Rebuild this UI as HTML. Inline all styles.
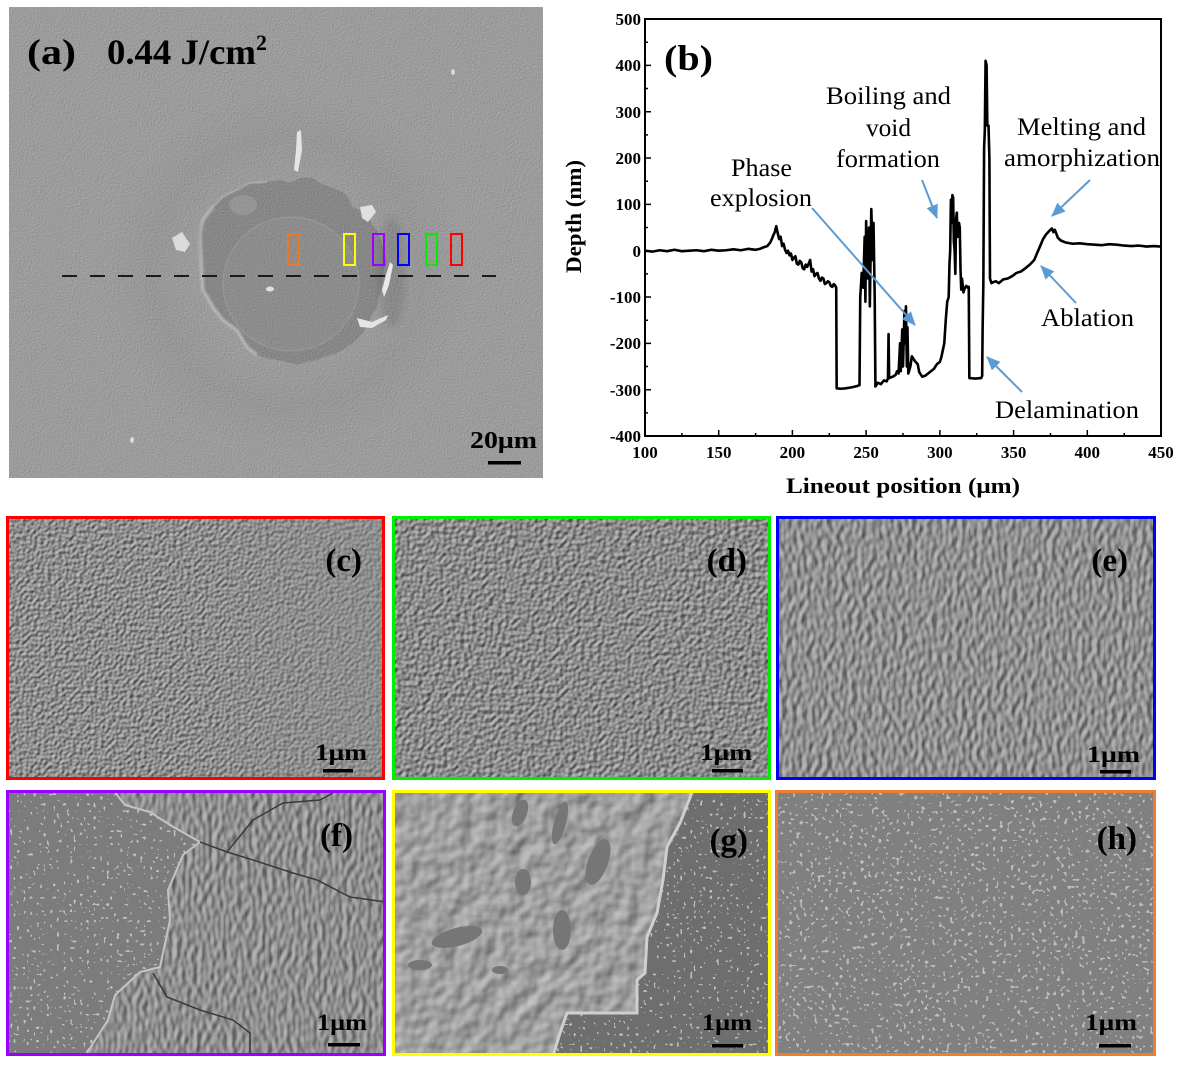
<!DOCTYPE html>
<html><head><meta charset="utf-8"><style>
html,body{margin:0;padding:0;background:#fff;}
svg{display:block;}
text{font-family:"Liberation Serif",serif;}
</style></head><body>
<svg width="1182" height="1067" viewBox="0 0 1182 1067" xmlns="http://www.w3.org/2000/svg">
<defs>
 <filter id="grainA" x="0" y="0" width="1" height="1" color-interpolation-filters="sRGB">
  <feTurbulence type="fractalNoise" baseFrequency="0.6" numOctaves="1" seed="4"/>
  <feDiffuseLighting surfaceScale="0.25" lighting-color="rgb(180,180,180)"><feDistantLight azimuth="225" elevation="60"/></feDiffuseLighting>
 </filter>
 <filter id="fc" x="0" y="0" width="1" height="1" color-interpolation-filters="sRGB">
  <feTurbulence type="fractalNoise" baseFrequency="0.28" numOctaves="1" seed="2"/>
  <feDiffuseLighting surfaceScale="1.2" lighting-color="rgb(203,203,203)"><feDistantLight azimuth="225" elevation="45"/></feDiffuseLighting>
 </filter>
 <filter id="fd" x="0" y="0" width="1" height="1" color-interpolation-filters="sRGB">
  <feTurbulence type="fractalNoise" baseFrequency="0.24" numOctaves="1" seed="9"/>
  <feDiffuseLighting surfaceScale="1.4" lighting-color="rgb(200,200,200)"><feDistantLight azimuth="225" elevation="45"/></feDiffuseLighting>
 </filter>
 <filter id="fe" x="0" y="0" width="1" height="1" color-interpolation-filters="sRGB">
  <feTurbulence type="fractalNoise" baseFrequency="0.2 0.12" numOctaves="1" seed="13"/>
  <feDiffuseLighting surfaceScale="1.4" lighting-color="rgb(204,204,204)"><feDistantLight azimuth="200" elevation="45"/></feDiffuseLighting>
 </filter>
 <filter id="ff" x="0" y="0" width="1" height="1" color-interpolation-filters="sRGB">
  <feTurbulence type="fractalNoise" baseFrequency="0.2 0.11" numOctaves="1" seed="21"/>
  <feDiffuseLighting surfaceScale="1.3" lighting-color="rgb(202,202,202)"><feDistantLight azimuth="200" elevation="45"/></feDiffuseLighting>
 </filter>
 <filter id="fg" x="0" y="0" width="1" height="1" color-interpolation-filters="sRGB">
  <feTurbulence type="fractalNoise" baseFrequency="0.06" numOctaves="2" seed="31"/>
  <feDiffuseLighting surfaceScale="2" lighting-color="rgb(214,214,214)"><feDistantLight azimuth="225" elevation="48"/></feDiffuseLighting>
 </filter>
 <filter id="fh" x="0" y="0" width="1" height="1" color-interpolation-filters="sRGB">
  <feTurbulence type="fractalNoise" baseFrequency="0.28" numOctaves="1" seed="7" result="t"/>
  <feColorMatrix in="t" type="matrix" values="0 0 0 0 0.78  0 0 0 0 0.78  0 0 0 0 0.78  3 0 0 0 -1.2" result="a"/>
  <feComponentTransfer in="a" result="d"><feFuncA type="discrete" tableValues="0 0 0 0.85"/></feComponentTransfer>
  <feComposite in="d" in2="SourceGraphic" operator="over"/>
 </filter>
 <filter id="dotsLight" x="0" y="0" width="1" height="1" color-interpolation-filters="sRGB">
  <feTurbulence type="fractalNoise" baseFrequency="0.3" numOctaves="1" seed="17" result="t"/>
  <feColorMatrix in="t" type="matrix" values="0 0 0 0 0.8  0 0 0 0 0.8  0 0 0 0 0.8  3 0 0 0 -1.2" result="a"/>
  <feComponentTransfer in="a" result="d"><feFuncA type="discrete" tableValues="0 0 0 0 0 0.85"/></feComponentTransfer>
  <feComposite in="d" in2="SourceGraphic" operator="in" result="d2"/>
  <feMerge><feMergeNode in="SourceGraphic"/><feMergeNode in="d2"/></feMerge>
 </filter>
 <filter id="blur4"><feGaussianBlur stdDeviation="4"/></filter>
 <filter id="blur1"><feGaussianBlur stdDeviation="1"/></filter>
 <radialGradient id="halo" cx="287" cy="272" r="180" gradientUnits="userSpaceOnUse">
  <stop offset="0.5" stop-color="#000" stop-opacity="0"/>
  <stop offset="0.75" stop-color="#000" stop-opacity="0.03"/>
  <stop offset="1" stop-color="#000" stop-opacity="0"/>
 </radialGradient>
 <linearGradient id="smoothC" x1="0" x2="1" y1="0" y2="0">
  <stop offset="0.45" stop-color="#8e8e8e" stop-opacity="0"/>
  <stop offset="1" stop-color="#8e8e8e" stop-opacity="0.5"/>
 </linearGradient>
 <marker id="ah" viewBox="0 0 14 12" refX="13" refY="6" markerWidth="14" markerHeight="12" markerUnits="userSpaceOnUse" orient="auto">
  <path d="M0,0 L14,6 L0,12 z" fill="#5b9bd5"/>
 </marker>
 <clipPath id="cf"><rect x="6" y="790" width="380" height="266"/></clipPath>
 <clipPath id="cg"><rect x="392" y="790" width="379" height="266"/></clipPath>
</defs>

<!-- ============ Panel (a) ============ -->
<rect x="9" y="7" width="534" height="471" filter="url(#grainA)"/>
<rect x="9" y="7" width="534" height="471" fill="url(#halo)"/>
<ellipse cx="392" cy="272" rx="14" ry="55" fill="#000" opacity="0.1" filter="url(#blur4)"/>
<polygon fill="#000" fill-opacity="0.13" points="280,180 290,183 300,178 313,178 320,183 330,187 338,190 347,195 350,202 352,207 358,209 363,213 370,220 373,226 377,230 380,238 383,247 385,255 387,263 384,270 383,277 382,285 380,293 378,300 377,307 373,313 370,320 366,327 363,333 358,338 353,343 345,348 337,353 327,356 317,360 307,362 297,365 287,362 277,360 267,358 257,355 252,351 247,347 242,338 237,330 230,325 223,320 218,313 213,307 208,298 203,290 203,282 202,273 201,263 200,253 199,243 198,233 200,226 203,220 208,213 213,207 218,202 223,197 230,193 237,190 243,186 250,183 258,183 267,182 273,181"/>
<ellipse cx="291" cy="284" rx="68" ry="67" fill="#fff" fill-opacity="0.05" stroke="#fff" stroke-opacity="0.1" stroke-width="1.5"/>
<polyline fill="none" stroke="#d8d8d8" stroke-opacity="0.55" stroke-width="3" filter="url(#blur1)" points="213,207 203,220 200,233 201,253 202,273 203,290 208,298 213,307 223,320 230,325 237,330 247,347 257,355"/>
<polyline fill="none" stroke="#d0d0d0" stroke-opacity="0.35" stroke-width="2" points="213,207 223,197 237,190 250,183 267,182"/>
<ellipse cx="243" cy="205" rx="14" ry="10" fill="#fff" fill-opacity="0.12"/>
<polygon fill="#e4e4e4" points="297,132 301,130 302,150 298,172 294,170 296,150"/>
<polygon fill="#e0e0e0" points="360,207 372,205 376,212 368,222 362,218"/>
<polygon fill="#e8e8e8" points="390,262 393,265 389,285 384,297 382,290 386,275"/>
<polygon fill="#e4e4e4" points="357,318 372,322 388,315 386,320 372,328 360,327"/>
<polygon fill="#dadada" points="172,238 182,232 190,244 185,252 176,250"/>
<ellipse cx="270" cy="289" rx="4" ry="2.5" fill="#e0e0e0"/>
<ellipse cx="453" cy="72" rx="2" ry="3" fill="#d8d8d8"/>
<ellipse cx="132" cy="440" rx="2" ry="3" fill="#d8d8d8"/>
<line x1="62" y1="276" x2="496" y2="276" stroke="#1a1a1a" stroke-width="2" stroke-dasharray="15 13"/>
<g fill="none" stroke-width="2">
 <rect x="288" y="234" width="11" height="31" stroke="#f07820"/>
 <rect x="344" y="234" width="11" height="31" stroke="#ffff00"/>
 <rect x="373" y="234" width="11" height="31" stroke="#9900ff"/>
 <rect x="398" y="234" width="11" height="31" stroke="#0000ff"/>
 <rect x="426" y="234" width="11" height="31" stroke="#00ee00"/>
 <rect x="451" y="234" width="11" height="31" stroke="#ff0000"/>
</g>
<text x="27" y="64" font-weight="bold" font-size="36" textLength="49" lengthAdjust="spacingAndGlyphs">(a)</text>
<text x="107" y="64" font-weight="bold" font-size="36" textLength="149" lengthAdjust="spacingAndGlyphs">0.44 J/cm</text>
<text x="256" y="50" font-weight="bold" font-size="22">2</text>
<text x="470" y="448" font-weight="bold" font-size="24" textLength="67" lengthAdjust="spacingAndGlyphs">20μm</text>
<rect x="488" y="461" width="33" height="3.5" fill="#000"/>

<!-- ============ Panel (b) ============ -->
<g fill="none" stroke="#000" stroke-width="1.5">
 <path d="M645,65.4h6 M645,111.7h6 M645,158h6 M645,204.4h6 M645,250.7h6 M645,297h6 M645,343.4h6 M645,389.7h6
  M645,42.2h3 M645,88.5h3 M645,134.9h3 M645,181.2h3 M645,227.5h3 M645,273.9h3 M645,320.2h3 M645,366.5h3 M645,412.9h3"/>
 <path d="M718.7,436v-6 M792.4,436v-6 M866.1,436v-6 M939.9,436v-6 M1013.6,436v-6 M1087.3,436v-6
  M681.9,436v-3 M755.6,436v-3 M829.3,436v-3 M903,436v-3 M976.7,436v-3 M1050.5,436v-3 M1124.2,436v-3"/>
</g>
<rect x="645" y="19" width="516" height="417" fill="none" stroke="#000" stroke-width="2"/>
<g font-size="17" text-anchor="end" font-weight="bold">
 <text x="641" y="25">500</text>
 <text x="641" y="71">400</text>
 <text x="641" y="118">300</text>
 <text x="641" y="164">200</text>
 <text x="641" y="210">100</text>
 <text x="641" y="257">0</text>
 <text x="641" y="303">-100</text>
 <text x="641" y="349">-200</text>
 <text x="641" y="396">-300</text>
 <text x="641" y="442">-400</text>
</g>
<g font-size="17" text-anchor="middle" font-weight="bold">
 <text x="645" y="458">100</text>
 <text x="718.7" y="458">150</text>
 <text x="792.4" y="458">200</text>
 <text x="866.1" y="458">250</text>
 <text x="939.9" y="458">300</text>
 <text x="1013.6" y="458">350</text>
 <text x="1087.3" y="458">400</text>
 <text x="1161" y="458">450</text>
</g>
<text x="786" y="493" font-size="22" font-weight="bold" textLength="234" lengthAdjust="spacingAndGlyphs">Lineout position (μm)</text>
<text transform="translate(581,273) rotate(-90)" font-size="22" font-weight="bold" textLength="113" lengthAdjust="spacingAndGlyphs">Depth (nm)</text>
<text x="664" y="70" font-size="36" font-weight="bold" textLength="49" lengthAdjust="spacingAndGlyphs">(b)</text>

<g transform="translate(645,250.7) scale(1.4743,-0.4633) translate(-100,0)">
<polyline fill="none" stroke="#000" stroke-width="2.6" vector-effect="non-scaling-stroke" stroke-linejoin="round" points="100,0 105,-2 110,1 115,-1 120,2 125,-1 130,0 135,1 140,-1 145,2 150,0 155,1 160,3 165,1 170,4 175,2 178,4 181,8 183,10 185,18 186,25 187,33 188,40 189,53 190,38 191,25 192,30 193,10 194,15 195,2 196,-5 197,0 198,-10 199,-6 200,-20 201,-15 202,-12 203,-28 204,-30 205,-22 206,-25 207,-38 208,-40 209,-30 210,-35 211,-28 212,-20 213,-45 214,-40 215,-55 216,-50 217,-48 218,-60 219,-65 220,-58 221,-60 222,-72 223,-70 224,-66 225,-68 226,-76 227,-78 228,-72 229,-75 229.7,-80 230,-297 233,-298 236,-297 240,-295 244,-292 245.5,-290 246,-100 247,-48 248,-80 249,30 249.5,-110 250,64 251,-60 252,50 252.5,-120 253.5,90 254.5,-20 255,60 255.8,-100 256.3,-293 258,-285 260,-288 262,-280 264,-282 264.8,-275 265.2,-180 265.6,-275 268,-272 270,-268 271,-260 272,-265 273,-200 273.5,-260 274.5,-170 275,-250 276,-130 276.5,-200 277,-120 277.6,-250 278,-165 278.6,-265 280,-250 281,-228 283,-238 285,-245 286,-262 288,-272 290,-270 292,-265 294,-260 296,-255 298,-245 300,-240 301,-230 302,-215 303,-200 304,-150 305,-110 306,-100 306.5,-30 307,0 307.5,110 308,60 308.5,120 309,115 309.5,20 310,0 310.5,-50 311,70 311.5,82 312,30 313,60 313.5,50 314,-40 314.5,-84 315,-60 316,-90 317,-80 318,-76 319,-80 319.6,-78 320,-275 324,-276 328,-275 328.7,-270 329,-170 329.5,-70 330,220 330.5,260 331,410 331.7,400 332.2,270 333,270 333.6,200 334,-60 335,-70 336,-68 338,-66 340,-70 343,-62 346,-60 349,-55 352,-48 355,-45 358,-38 361,-30 364,-20 366,-5 368,10 370,25 372,35 374,42 376,48 377,40 378,45 380,28 382,22 385,18 390,15 395,16 400,14 405,13 410,12 415,14 420,13 425,11 430,10 435,11 440,9 445,10 450,9"/>
</g>

<g font-size="25">
 <text x="731" y="176" textLength="61" lengthAdjust="spacingAndGlyphs">Phase</text>
 <text x="710" y="206" textLength="102" lengthAdjust="spacingAndGlyphs">explosion</text>
 <text x="826" y="104" textLength="125" lengthAdjust="spacingAndGlyphs">Boiling and</text>
 <text x="866" y="136" textLength="45" lengthAdjust="spacingAndGlyphs">void</text>
 <text x="836" y="167" textLength="104" lengthAdjust="spacingAndGlyphs">formation</text>
 <text x="1017" y="135" textLength="129" lengthAdjust="spacingAndGlyphs">Melting and</text>
 <text x="1004" y="166" textLength="156" lengthAdjust="spacingAndGlyphs">amorphization</text>
 <text x="1041" y="326" textLength="93" lengthAdjust="spacingAndGlyphs">Ablation</text>
 <text x="995" y="418" textLength="144" lengthAdjust="spacingAndGlyphs">Delamination</text>
</g>
<g stroke="#5b9bd5" stroke-width="2" marker-end="url(#ah)">
 <line x1="812" y1="208" x2="915" y2="325"/>
 <line x1="922" y1="180" x2="937" y2="218"/>
 <line x1="1090" y1="180" x2="1052" y2="216"/>
 <line x1="1076" y1="303" x2="1041" y2="266"/>
 <line x1="1022" y1="392" x2="987" y2="357"/>
</g>

<!-- ============ Panel (c) ============ -->
<rect x="6" y="516" width="379" height="264" filter="url(#fc)"/>
<rect x="6" y="516" width="379" height="264" fill="url(#smoothC)"/>
<rect x="7.5" y="517.5" width="376" height="261" fill="none" stroke="#ff0000" stroke-width="3"/>
<text x="362" y="571" text-anchor="end" font-size="33" font-weight="bold">(c)</text>
<text x="315" y="760" font-size="23" font-weight="bold" textLength="52" lengthAdjust="spacingAndGlyphs">1μm</text>
<rect x="323" y="769" width="30" height="3.5" fill="#000"/>

<!-- ============ Panel (d) ============ -->
<rect x="392" y="516" width="379" height="264" filter="url(#fd)"/>
<rect x="393.5" y="517.5" width="376" height="261" fill="none" stroke="#00ee00" stroke-width="3"/>
<text x="747" y="571" text-anchor="end" font-size="33" font-weight="bold">(d)</text>
<text x="700" y="760" font-size="23" font-weight="bold" textLength="52" lengthAdjust="spacingAndGlyphs">1μm</text>
<rect x="712" y="769" width="31" height="3.5" fill="#000"/>

<!-- ============ Panel (e) ============ -->
<rect x="776" y="516" width="380" height="264" filter="url(#fe)"/>
<rect x="777.5" y="517.5" width="377" height="261" fill="none" stroke="#0000ff" stroke-width="3"/>
<text x="1128" y="571" text-anchor="end" font-size="33" font-weight="bold">(e)</text>
<text x="1087" y="762" font-size="23" font-weight="bold" textLength="53" lengthAdjust="spacingAndGlyphs">1μm</text>
<rect x="1100" y="770" width="31" height="3.5" fill="#000"/>

<!-- ============ Panel (f) ============ -->
<g clip-path="url(#cf)">
<rect x="6" y="790" width="380" height="266" filter="url(#ff)"/>
<polygon fill="#7c7c7c" filter="url(#dotsLight)" points="6,790 113,790 125,805 150,812 170,825 200,842 183,855 168,890 170,920 160,967 140,972 115,995 108,1020 92,1045 85,1056 6,1056"/>
<polyline fill="none" stroke="#c4c4c4" stroke-width="2" points="113,790 125,805 150,812 170,825 200,842 183,855 168,890 170,920 160,967 140,972 115,995 108,1020 92,1045 85,1056"/>
<g fill="none" stroke="#3a3a3a" stroke-width="1.5">
 <polyline points="200,842 227,852 253,820 283,803 320,800 333,793"/>
 <polyline points="227,852 253,860 293,873 317,880 350,897 386,902"/>
 <polyline points="153,973 167,997 200,1010 233,1020 250,1033 250,1056"/>
</g>
</g>
<rect x="7.5" y="791.5" width="377" height="263" fill="none" stroke="#9900ff" stroke-width="3"/>
<text x="353" y="846" text-anchor="end" font-size="33" font-weight="bold">(f)</text>
<text x="317" y="1030" font-size="23" font-weight="bold" textLength="50" lengthAdjust="spacingAndGlyphs">1μm</text>
<rect x="328" y="1043" width="32" height="3.5" fill="#000"/>

<!-- ============ Panel (g) ============ -->
<g clip-path="url(#cg)">
<rect x="392" y="790" width="379" height="266" filter="url(#fg)"/>
<g fill="#767676">
 <ellipse cx="457" cy="937" rx="26" ry="9" transform="rotate(-15 457 937)"/>
 <ellipse cx="562" cy="930" rx="9" ry="20"/>
 <ellipse cx="523" cy="882" rx="8" ry="13"/>
 <ellipse cx="598" cy="862" rx="10" ry="24" transform="rotate(20 598 862)"/>
 <ellipse cx="560" cy="823" rx="6" ry="22" transform="rotate(15 560 823)"/>
 <ellipse cx="520" cy="813" rx="7" ry="14" transform="rotate(20 520 813)"/>
 <ellipse cx="420" cy="965" rx="12" ry="5"/>
 <ellipse cx="500" cy="970" rx="8" ry="4"/>
</g>
<polygon fill="#6e6e6e" filter="url(#dotsLight)" points="693,790 771,790 771,1056 553,1056 560,1033 567,1013 637,1013 637,980 645,973 647,937 657,913 663,880 667,847 680,823"/>
<polyline fill="none" stroke="#cfcfcf" stroke-width="3" points="693,790 680,823 667,847 663,880 657,913 647,937 645,973 637,980 637,1013 567,1013 560,1033 553,1056"/>
</g>
<rect x="393.5" y="791.5" width="376" height="263" fill="none" stroke="#ffff00" stroke-width="3"/>
<text x="748" y="851" text-anchor="end" font-size="33" font-weight="bold">(g)</text>
<text x="702" y="1030" font-size="23" font-weight="bold" textLength="50" lengthAdjust="spacingAndGlyphs">1μm</text>
<rect x="712" y="1044" width="31" height="3.5" fill="#000"/>

<!-- ============ Panel (h) ============ -->
<rect x="775" y="790" width="381" height="266" fill="#808080" filter="url(#fh)"/>
<rect x="776.5" y="791.5" width="378" height="263" fill="none" stroke="#ed7d31" stroke-width="3"/>
<text x="1137" y="849" text-anchor="end" font-size="33" font-weight="bold">(h)</text>
<text x="1085" y="1030" font-size="23" font-weight="bold" textLength="52" lengthAdjust="spacingAndGlyphs">1μm</text>
<rect x="1099" y="1044" width="32" height="3.5" fill="#000"/>
</svg>
</body></html>
